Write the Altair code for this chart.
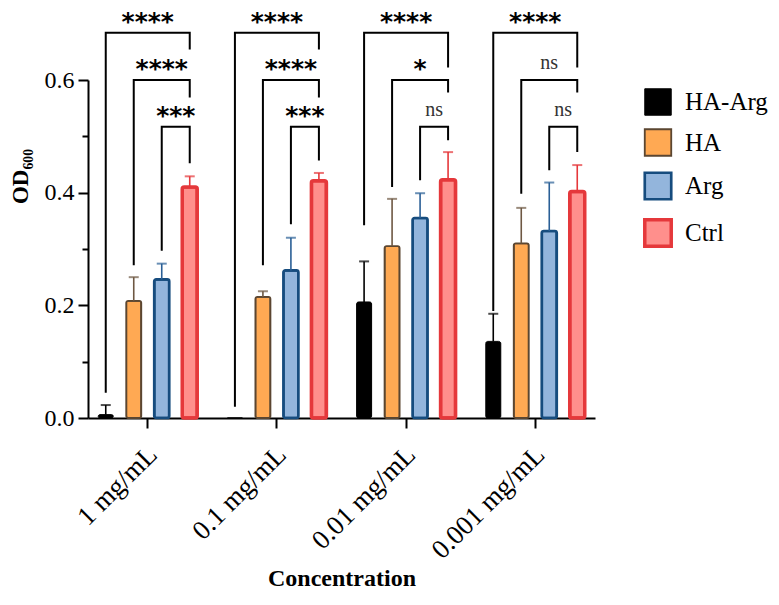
import pandas as pd
import altair as alt

groups = ["1 mg/mL", "0.1 mg/mL", "0.01 mg/mL", "0.001 mg/mL"]
series = ["HA-Arg", "HA", "Arg", "Ctrl"]

# OD600 means per treatment, in group order
mean_ha_arg = [0.006, 0.0, 0.206, 0.136]
mean_ha = [0.208, 0.215, 0.305, 0.310]
mean_arg = [0.246, 0.262, 0.355, 0.332]
mean_ctrl = [0.410, 0.421, 0.423, 0.402]

# upper error (SD)
sd_ha_arg = [0.017, 0.0, 0.072, 0.049]
sd_ha = [0.042, 0.010, 0.084, 0.063]
sd_arg = [0.028, 0.058, 0.044, 0.086]
sd_ctrl = [0.019, 0.014, 0.049, 0.047]

fill_colors = ["#000000", "#FFA953", "#93B5DC", "#FF8F8C"]
edge_colors = ["#000000", "#5B4631", "#164C7E", "#E5383B"]
whisker_colors = ["#000000", "#6E5843", "#2A5F96", "#E5383B"]
edge_widths = [1, 3.5, 3.5, 2]

# significance brackets, each group: HA-Arg / HA / Arg vs Ctrl
br_group = [g for g in groups for _ in range(3)]
br_left = ["HA-Arg", "HA", "Arg"] * 4
br_level = [0.684, 0.600, 0.517] * 4
br_left_end = [0.045, 0.271, 0.297,
               0.020, 0.271, 0.344,
               0.342, 0.410, 0.422,
               0.190, 0.398, 0.440]
br_right_end = [0.654, 0.569, 0.452,
                0.654, 0.569, 0.457,
                0.622, 0.578, 0.493,
                0.622, 0.578, 0.472]
br_label = ["****", "****", "***",
            "****", "****", "***",
            "****", "*", "ns",
            "****", "ns", "ns"]

# --- layout ---
W, H = 507, 338
GROUP_GAP = 0.075
BAR_INNER, BAR_OUTER = 0.464, 0.366

x_step = W / (len(groups) - GROUP_GAP)
x_band = x_step * (1 - GROUP_GAP)
o_step = x_band / (len(series) - BAR_INNER + 2 * BAR_OUTER)

SERIF = "Liberation Serif"

bars = pd.DataFrame({
    "group": groups * 4,
    "series": [s for s in series for _ in groups],
    "mean": mean_ha_arg + mean_ha + mean_arg + mean_ctrl,
    "sd": sd_ha_arg + sd_ha + sd_arg + sd_ctrl,
})
bars["upper"] = bars["mean"] + bars["sd"]
errs = bars[bars["sd"] > 0]

pts = []
for i in range(len(br_group)):
    path = [(br_left[i], br_left_end[i]), (br_left[i], br_level[i]),
            ("Ctrl", br_level[i]), ("Ctrl", br_right_end[i])]
    for k, (s, y) in enumerate(path):
        pts.append({"id": i, "k": k, "group": br_group[i], "series": s, "y": y})
brackets = pd.DataFrame(pts)

labels = pd.DataFrame({
    "group": br_group,
    "left": br_left,
    "level": br_level,
    "label": br_label,
})

x_scale = alt.Scale(domain=groups, paddingInner=GROUP_GAP, paddingOuter=0)
x_axis = alt.Axis(labelAngle=-45, labelFont=SERIF, labelFontSize=27, labelColor="black",
                  labelPadding=13, labelOffset=-4,
                  tickSize=10, tickWidth=2, tickColor="black",
                  domainWidth=2, domainColor="black",
                  title="Concentration", titleFont=SERIF, titleFontSize=24,
                  titleFontWeight="bold", titleColor="black", titleY=160, titleBaseline="middle")
x_enc = alt.X("group:N", scale=x_scale, axis=x_axis)
offset_scale = alt.Scale(type="band", domain=series, paddingInner=BAR_INNER, paddingOuter=BAR_OUTER)
xo = alt.XOffset("series:N", scale=offset_scale)
y_scale = alt.Scale(domain=[0, 0.6], nice=False, zero=True)

legend = alt.Legend(title=None, orient="none", legendX=555, legendY=8, symbolType="square",
                    symbolSize=700, symbolStrokeWidth=3, labelFont=SERIF, labelFontSize=25,
                    labelColor="black", labelOffset=12, rowPadding=7, padding=0)

bar_layer = alt.Chart(bars).mark_bar(cornerRadius=2).encode(
    x=x_enc,
    xOffset=xo,
    y=alt.Y("mean:Q", scale=y_scale,
            axis=alt.Axis(values=[0, 0.2, 0.4, 0.6], format=".1f", tickSize=10, tickWidth=2,
                          tickColor="black", domainWidth=2, domainColor="black", grid=False,
                          labelFont=SERIF, labelFontSize=24, labelColor="black", labelPadding=4,
                          title="OD₆₀₀", titleFont=SERIF, titleFontSize=23, titleFontWeight="bold",
                          titleColor="black", titleX=-68, titleY=96, titleAlign="center",
                          titleBaseline="middle")),
    fill=alt.Fill("series:N", scale=alt.Scale(domain=series, range=fill_colors), legend=legend),
    stroke=alt.Stroke("series:N", scale=alt.Scale(domain=series, range=edge_colors), legend=legend),
    strokeWidth=alt.StrokeWidth("series:N", scale=alt.Scale(domain=series, range=edge_widths), legend=None),
)

whisker_color = alt.Color("series:N", scale=alt.Scale(domain=series, range=whisker_colors), legend=None)

err_rule = alt.Chart(errs).mark_rule(strokeWidth=1.6).encode(
    x=x_enc,
    xOffset=xo,
    y=alt.Y("mean:Q", scale=y_scale,
            axis=alt.Axis(orient="left", values=[0.1, 0.3, 0.5], labels=False, domain=False,
                          tickSize=6, tickWidth=2, tickColor="black", grid=False, title="")),
    y2="upper:Q",
    color=whisker_color,
)

err_cap = alt.Chart(errs).mark_tick(size=10, thickness=2).encode(
    x=x_enc,
    xOffset=xo,
    y=alt.Y("upper:Q", scale=y_scale, axis=None),
    color=whisker_color,
)

bracket_layer = alt.Chart(brackets).mark_line(color="black", strokeWidth=2, strokeJoin="miter").encode(
    x=x_enc,
    xOffset=xo,
    y=alt.Y("y:Q", scale=y_scale, axis=None),
    detail="id:N",
    order="k:Q",
)


def label_layer(sel, left, star):
    # a label sits over the middle of its bracket (left bar .. Ctrl)
    n_between = series.index("Ctrl") - series.index(left)
    style = (dict(font="DejaVu Sans", fontSize=25, fontWeight="bold", dy=-3, color="black") if star
             else dict(font=SERIF, fontSize=20, dy=-11, color="#333333"))
    enc = dict(x=x_enc, y=alt.Y("level:Q", scale=y_scale, axis=None), text="label:N")
    dx = 0
    if n_between < 3:
        enc["xOffset"] = alt.XOffset("anchor:N", scale=offset_scale)
        dx = 0 if n_between == 2 else o_step / 2
        sel = sel.assign(anchor="Arg")
    return alt.Chart(sel).mark_text(baseline="alphabetic", dx=dx, **style).encode(**enc)


text_layers = []
for left in ["HA-Arg", "HA", "Arg"]:
    for star in [True, False]:
        sel = labels[(labels["left"] == left) & ((labels["label"] != "ns") == star)]
        if len(sel):
            text_layers.append(label_layer(sel, left, star))

chart = alt.layer(bar_layer, err_rule, err_cap, bracket_layer, *text_layers).resolve_axis(
    y="independent"
).properties(
    width=W,
    height=H,
    padding={"left": 80, "top": 72, "right": 174, "bottom": 174},
    autosize=alt.AutoSizeParams(type="none"),
    background="white",
).configure_view(stroke=None)

chart.save("out.html", embed_options={"renderer": "svg", "actions": False})
